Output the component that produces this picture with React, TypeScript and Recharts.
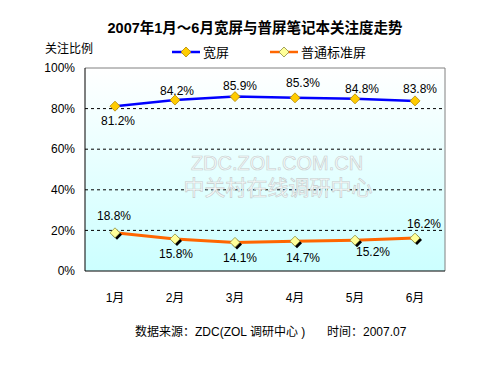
import {
  LineChart,
  Line,
  XAxis,
  YAxis,
  ReferenceLine,
  ReferenceArea,
  LabelList,
} from 'recharts'

const months = ['1月', '2月', '3月', '4月', '5月', '6月']
const wide = [81.2, 84.2, 85.9, 85.3, 84.8, 83.8]
const standard = [18.8, 15.8, 14.1, 14.7, 15.2, 16.2]
const yTicks = [0, 20, 40, 60, 80, 100]
const gridValues = [20, 40, 60, 80]

const FONT = '"Liberation Sans", Arial, "Noto Sans CJK SC", sans-serif'

// label nudges (dx, dy) per point, as placed in the original
const wideLabelShift = [[3, 15], [2, -9], [5, -11], [8, -15], [7, -10], [5, -12]]
const standardLabelShift = [[-1, -17], [1, 15], [5, 16], [8, 17], [18, 12], [9, -14]]

const data = months.map((m, i) => ({
  month: m,
  pos: i + 0.5,
  wide: wide[i],
  standard: standard[i],
}))

function diamond(cx: number, cy: number, r: number) {
  return `${cx},${cy - r} ${cx + r},${cy} ${cx},${cy + r} ${cx - r},${cy}`
}

function WideDot({ cx, cy, index }: any) {
  if (cx == null || cy == null) return null
  return (
    <polygon key={`w${index}`} points={diamond(cx, cy, 5)} fill="#ffcc00" stroke="#b38600" strokeWidth={0.8} />
  )
}

function StandardDot({ cx, cy, index }: any) {
  if (cx == null || cy == null) return null
  return (
    <g key={`s${index}`}>
      <polygon points={diamond(cx + 2, cy + 2, 5)} fill="#000" />
      <polygon points={diamond(cx, cy, 5)} fill="#ffff99" stroke="#8c8c40" strokeWidth={0.8} />
    </g>
  )
}

function makeLabel(shift: number[][]) {
  return (props: any) => {
    const { x, y, value, index } = props
    const [dx, dy] = shift[index] || [0, -12]
    return (
      <text
        x={x + dx}
        y={y + dy}
        textAnchor="middle"
        dominantBaseline="central"
        fontSize={12}
        fontFamily={FONT}
        fill="#000"
      >
        {value.toFixed(1)}%
      </text>
    )
  }
}

export default function App() {
  const labelTicks = months.map((_, i) => i + 0.5)
  const boundaryTicks = months.map((_, i) => i + 1)
  return (
    <div style={{ position: 'absolute', left: 0, top: 0, width: 500, height: 375, background: '#fff' }}>
      <LineChart width={500} height={375} data={data} margin={{ top: 68, right: 55, bottom: 74, left: 0 }}>
        <defs>
          <linearGradient id="plotBg" x1="0" y1="0" x2="0" y2="1">
            <stop offset="0%" stopColor="#ffffff" />
            <stop offset="100%" stopColor="#ccffff" />
          </linearGradient>
        </defs>
        <XAxis
          xAxisId="grid"
          type="number"
          dataKey="pos"
          domain={[0, 6]}
          ticks={boundaryTicks}
          height={0}
          tick={() => <g />}
          tickSize={4}
          tickLine={{ stroke: '#000' }}
          axisLine={{ stroke: '#000' }}
        />
        <XAxis
          type="number"
          dataKey="pos"
          domain={[0, 6]}
          ticks={labelTicks}
          tickFormatter={(v) => months[Math.floor(v)]}
          height={30}
          tickLine={false}
          tickSize={0}
          tickMargin={22}
          axisLine={{ stroke: '#000' }}
          tick={{ fill: '#000', fontSize: 12, fontFamily: FONT }}
        />
        <YAxis
          domain={[0, 100]}
          ticks={yTicks}
          tickFormatter={(v) => `${v}%`}
          width={85}
          tickLine={false}
          tickSize={0}
          tickMargin={10}
          axisLine={{ stroke: '#000' }}
          tick={{ fill: '#000', fontSize: 12, fontFamily: FONT }}
        />
        <ReferenceArea x1={0} x2={6} y1={0} y2={100} fill="url(#plotBg)" fillOpacity={1} stroke="none" />
        {gridValues.map((v) => (
          <ReferenceLine key={v} y={v} stroke="#000" strokeDasharray="3 3" />
        ))}
        <ReferenceLine y={100} stroke="#808080" />
        <ReferenceLine x={6} stroke="#808080" />
        <Line
          dataKey="wide"
          type="linear"
          stroke="#0000ff"
          strokeWidth={2.5}
          dot={<WideDot />}
          activeDot={false}
          isAnimationActive={false}
        >
          <LabelList dataKey="wide" content={makeLabel(wideLabelShift)} />
        </Line>
        <Line
          dataKey="standard"
          type="linear"
          stroke="#ff6600"
          strokeWidth={3}
          dot={<StandardDot />}
          activeDot={false}
          isAnimationActive={false}
        >
          <LabelList dataKey="standard" content={makeLabel(standardLabelShift)} />
        </Line>
      </LineChart>
      <svg
        width={500}
        height={375}
        style={{ position: 'absolute', left: 0, top: 0, pointerEvents: 'none' }}
        fontFamily={FONT}
      >
        <text x={255} y={28} textAnchor="middle" dominantBaseline="central" fontSize={14.5} fontWeight="bold">
          2007年1月～6月宽屏与普屏笔记本关注度走势
        </text>
        <text x={45} y={49} dominantBaseline="central" fontSize={12}>关注比例</text>

        {/* legend */}
        <line x1={172} y1={52} x2={200} y2={52} stroke="#0000ff" strokeWidth={2.5} />
        <polygon points={diamond(186, 52, 5)} fill="#ffcc00" stroke="#b38600" strokeWidth={0.8} />
        <text x={203} y={52} dominantBaseline="central" fontSize={13}>宽屏</text>
        <line x1={270} y1={52} x2={298} y2={52} stroke="#ff6600" strokeWidth={2.5} />
        <polygon points={diamond(284, 52, 5)} fill="#ffff99" stroke="#8c8c40" strokeWidth={0.8} />
        <text x={301} y={52} dominantBaseline="central" fontSize={13}>普通标准屏</text>

        {/* watermark */}
        <text x={277} y={163} textAnchor="middle" dominantBaseline="central" fontSize={20} fill="#f8fbfb" stroke="#c4cccc" strokeWidth={0.6}>
          ZDC.ZOL.COM.CN
        </text>
        <text x={278} y={187} textAnchor="middle" dominantBaseline="central" fontSize={21} fill="#f8fbfb" stroke="#c4cccc" strokeWidth={0.6}>
          中关村在线调研中心
        </text>

        <text x={135} y={332} dominantBaseline="central" fontSize={12}>数据来源：ZDC(ZOL 调研中心 )</text>
        <text x={327} y={332} dominantBaseline="central" fontSize={12}>时间：2007.07</text>
      </svg>
    </div>
  )
}
